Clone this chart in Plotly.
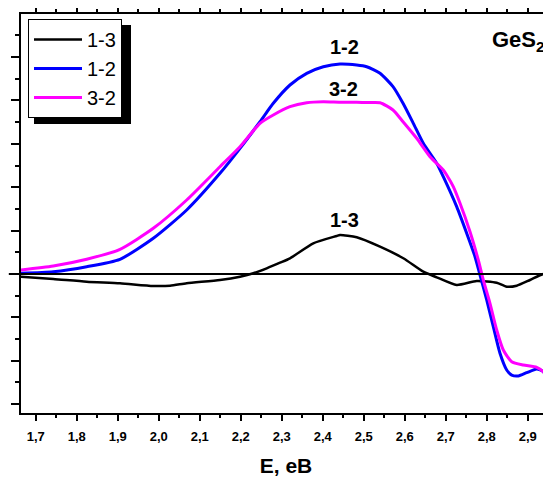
import plotly.graph_objects as go

# ---- data ----
E_12 = [1.6617, 1.7429, 1.8244, 1.9056, 1.9868, 2.0683, 2.1495, 2.1983, 2.2471, 2.2795, 2.3202,
        2.3610, 2.4015, 2.4422, 2.4829, 2.5073, 2.5398, 2.5715, 2.5959, 2.6210, 2.6454, 2.6780,
        2.6941, 2.7268, 2.7512, 2.7715, 2.7837, 2.8000, 2.8161, 2.8324, 2.8488, 2.8610, 2.8771,
        2.8976, 2.9220, 2.9380, 2.9544, 2.9568]
Y_12 = [0.016, 0.053, 0.168, 0.339, 0.823, 1.475, 2.320, 2.896, 3.509, 3.933, 4.355,
        4.624, 4.776, 4.839, 4.816, 4.776, 4.624, 4.316, 3.933, 3.472, 3.012, 2.551,
        2.242, 1.551, 0.938, 0.399, -0.023, -0.599, -1.214, -1.827, -2.212, -2.330, -2.350,
        -2.274, -2.189, -2.251, -2.518, -2.560]

E_32 = [1.6617, 1.7429, 1.8244, 1.9056, 1.9868, 2.0683, 2.1495, 2.1983, 2.2471, 2.2795, 2.3202,
        2.3610, 2.4015, 2.4400, 2.4829, 2.5100, 2.5398, 2.5715, 2.5959, 2.6293, 2.6617, 2.6941,
        2.7024, 2.7185, 2.7349, 2.7593, 2.7795, 2.7917, 2.8080, 2.8244, 2.8405, 2.8610, 2.8893,
        2.9220, 2.9380, 2.9544, 2.9568]
Y_32 = [0.092, 0.184, 0.339, 0.569, 1.053, 1.705, 2.472, 2.933, 3.472, 3.664, 3.855,
        3.947, 3.970, 3.960, 3.956, 3.950, 3.947, 3.779, 3.509, 3.127, 2.703, 2.396,
        2.281, 2.012, 1.629, 0.975, 0.323, -0.138, -0.675, -1.290, -1.751, -2.021, -2.097,
        -2.150, -2.251, -2.482, -2.520]

E_13 = [1.6617, 1.7429, 1.8244, 1.9056, 1.9868, 2.0276, 2.0683, 2.1495, 2.1983, 2.2307, 2.2634,
        2.2959, 2.3202, 2.3771, 2.4341, 2.4422, 2.4829, 2.5398, 2.5966, 2.6454, 2.6780, 2.7268,
        2.7756, 2.8244, 2.8488, 2.8732, 2.9056, 2.9380, 2.9568]
Y_13 = [-0.062, -0.115, -0.177, -0.214, -0.276, -0.270, -0.214, -0.138, -0.062, 0.016, 0.131,
        0.260, 0.362, 0.707, 0.876, 0.899, 0.846, 0.629, 0.362, 0.053, -0.076, -0.253,
        -0.161, -0.200, -0.293, -0.270, -0.138, 0.0, 0.0]

series_names = ["1-3", "1-2", "3-2"]
series_colors = ["#000000", "#0000FF", "#FF00FF"]
curve_labels = ["1-2", "3-2", "1-3"]
label_E = [2.452, 2.450, 2.454]
label_Y = [5.23, 4.27, 1.244]

FONT = "Arial, Liberation Sans, sans-serif"

fig = go.Figure()
for name, xs, ys, col, w in zip(series_names, [E_13, E_12, E_32], [Y_13, Y_12, Y_32],
                                series_colors, [2.5, 3, 3]):
    fig.add_trace(go.Scatter(x=xs, y=ys, mode="lines", name=name,
                             line=dict(color=col, width=w, shape="spline", smoothing=0.6)))

for t, ex, ey in zip(curve_labels, label_E, label_Y):
    fig.add_annotation(x=ex, y=ey, text="<b>%s</b>" % t, showarrow=False,
                       font=dict(family=FONT, size=20, color="black"))

fig.add_annotation(xref="paper", yref="paper", x=0.9925, y=0.932, xanchor="right", yanchor="middle",
                   text="<b>GeS<sub>2</sub></b>", showarrow=False,
                   font=dict(family=FONT, size=22, color="black"))

# zero line
fig.add_shape(type="line", xref="paper", yref="y", x0=-0.023, x1=1, y0=0, y1=0,
              line=dict(color="black", width=2))
# legend shadow
fig.add_shape(type="rect", xref="paper", yref="paper",
              x0=(34 - 21) / 530, x1=(131 - 21) / 530,
              y0=(413 - 124) / 399, y1=(413 - 25) / 399,
              fillcolor="black", line=dict(width=0), layer="above")

fig.update_layout(
    template="none",
    width=551, height=477,
    margin=dict(l=13, r=8, t=6, b=72),
    plot_bgcolor="white", paper_bgcolor="white",
    separators=", ",
    font=dict(family=FONT, color="black"),
    showlegend=True,
    legend=dict(x=(28 - 21) / 530, y=(413 - 19) / 399, xanchor="left", yanchor="top",
                bgcolor="white", bordercolor="black", borderwidth=1,
                font=dict(family=FONT, size=20, color="black"),
                itemwidth=48, tracegroupgap=0),
    xaxis=dict(range=[1.66415, 2.95683], tick0=1.7, dtick=0.1, tickformat=".1f",
               ticks="outside", ticklen=6, tickwidth=2, tickcolor="black",
               showline=True, linewidth=2, linecolor="black", mirror="ticks",
               showgrid=False, zeroline=False, automargin=False, ticklabelstandoff=4,
               tickfont=dict(family=FONT, size=13, color="black", weight="bold"),
               minor=dict(dtick=0.05, ticks="outside", ticklen=3, tickwidth=2, tickcolor="black"),
               title=dict(text="<b>E, eB</b>", font=dict(family=FONT, size=21, color="black"),
                          standoff=16)),
    yaxis=dict(range=[-3.203, 5.991], tick0=0, dtick=1, showticklabels=False,
               ticks="outside", ticklen=8, tickwidth=2, tickcolor="black",
               showline=True, linewidth=2, linecolor="black", mirror=False,
               showgrid=False, zeroline=False, automargin=False,
               minor=dict(dtick=0.5, ticks="outside", ticklen=4, tickwidth=2, tickcolor="black")),
)

fig.write_html("out.html")
